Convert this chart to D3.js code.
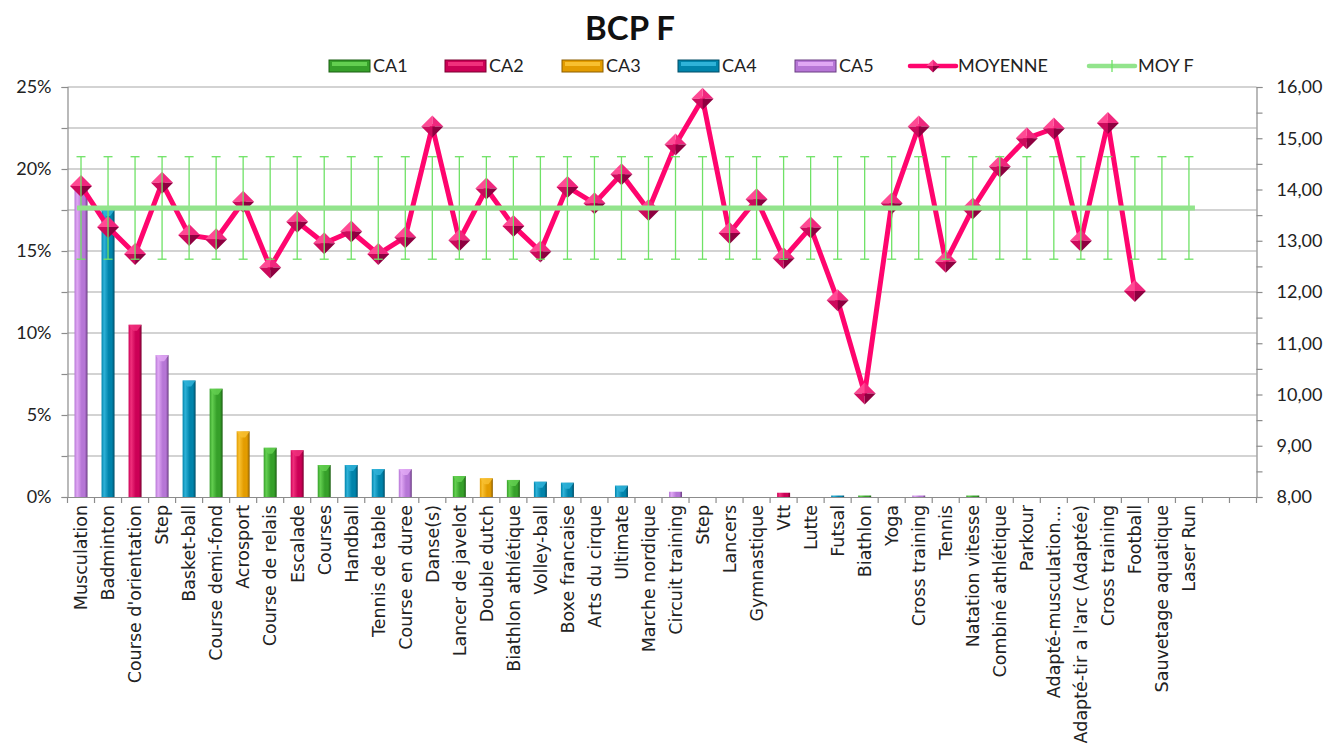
<!DOCTYPE html>
<html>
<head>
<meta charset="utf-8">
<script src="https://cdn.jsdelivr.net/npm/d3@7"></script>
<style>
  body { margin: 0; background: #fff; }
  svg { display: block; }
</style>
</head>
<body>
<svg id="chart" width="1327" height="747"></svg>
<script>
// Chart data
const categories = [
  'Musculation', 'Badminton', "Course d'orientation", 'Step', 'Basket-ball',
  'Course demi-fond', 'Acrosport', 'Course de relais', 'Escalade', 'Courses',
  'Handball', 'Tennis de table', 'Course en duree', 'Danse(s)', 'Lancer de javelot',
  'Double dutch', 'Biathlon athlétique', 'Volley-ball', 'Boxe francaise', 'Arts du cirque',
  'Ultimate', 'Marche nordique', 'Circuit training', 'Step', 'Lancers',
  'Gymnastique', 'Vtt', 'Lutte', 'Futsal', 'Biathlon',
  'Yoga', 'Cross training', 'Tennis', 'Natation vitesse', 'Combiné athlétique',
  'Parkour', 'Adapté-musculation…', "Adapté-tir a l'arc (Adaptée)", 'Cross training', 'Football',
  'Sauvetage aquatique', 'Laser Run', '', ''
];

// share of students per activity (%), and the CA group of each bar
const share = [
  18.9, 17.5, 10.5, 8.65, 7.1,
  6.6, 4.0, 3.0, 2.85, 1.95,
  1.95, 1.7, 1.7, 0, 1.28,
  1.14, 1.04, 0.93, 0.87, 0,
  0.69, 0, 0.32, 0, 0,
  0, 0.26, 0, 0.09, 0.09,
  0, 0.09, 0, 0.09, 0,
  0, 0, 0, 0, 0,
  0, 0
];
const caGroup = [
  'CA5', 'CA4', 'CA2', 'CA5', 'CA4',
  'CA1', 'CA3', 'CA1', 'CA2', 'CA1',
  'CA4', 'CA4', 'CA5', null, 'CA1',
  'CA3', 'CA1', 'CA4', 'CA4', null,
  'CA4', null, 'CA5', null, null,
  null, 'CA2', null, 'CA4', 'CA1',
  null, 'CA5', null, 'CA1', null,
  null, null, null, null, null,
  null, null
];

// average mark per activity (right axis)
const moyenne = [
  14.07, 13.27, 12.74, 14.13, 13.11,
  13.03, 13.76, 12.48, 13.37, 12.95,
  13.18, 12.74, 13.07, 15.23, 13.01,
  14.02, 13.29, 12.79, 14.05, 13.73,
  14.30, 13.60, 14.88, 15.77, 13.15,
  13.81, 12.66, 13.26, 11.84, 10.02,
  13.73, 15.23, 12.59, 13.63, 14.45,
  15.00, 15.19, 13.00, 15.30, 12.02
];

// overall girls' average and its error margin
const moyF = 13.64;
const moyFError = 1.0;
const moyFCount = 42;

const groups = ['CA1', 'CA2', 'CA3', 'CA4', 'CA5'];
const groupColors = {
  CA1: { base: '#36a02a', light: '#63cf50', dark: '#1b5e12' },
  CA2: { base: '#cc0056', light: '#f0307c', dark: '#7a0030' },
  CA3: { base: '#e39c00', light: '#f8c030', dark: '#8c5e00' },
  CA4: { base: '#0084ab', light: '#2fb2d8', dark: '#004c66' },
  CA5: { base: '#b676d6', light: '#e0a8f4', dark: '#6a3c82' }
};

const width = 1327, height = 747;
const plot = { left: 67.5, right: 1256.5, top: 87, bottom: 497 };

const svg = d3.select('#chart');
const defs = svg.append('defs');

groups.forEach(g => {
  const c = groupColors[g];
  const grad = defs.append('linearGradient').attr('id', 'grad-' + g)
    .attr('x1', '0%').attr('x2', '100%').attr('y1', '0%').attr('y2', '0%');
  grad.append('stop').attr('offset', '0%').attr('stop-color', c.base);
  grad.append('stop').attr('offset', '20%').attr('stop-color', c.light);
  grad.append('stop').attr('offset', '55%').attr('stop-color', c.base);
  grad.append('stop').attr('offset', '80%').attr('stop-color', c.base);
  grad.append('stop').attr('offset', '100%').attr('stop-color', c.dark);
});

// scales
const x = d3.scaleBand()
  .domain(d3.range(categories.length))
  .range([plot.left, plot.right])
  .paddingInner(0).paddingOuter(0);
const cx = i => x(i) + x.bandwidth() / 2;
const barWidth = 13;

const yLeft = d3.scaleLinear().domain([0, 25]).range([plot.bottom, plot.top]);
const yRight = d3.scaleLinear().domain([8, 16]).range([plot.bottom, plot.top]);

// gridlines
svg.append('g')
  .selectAll('line')
  .data(d3.range(2.5, 25.01, 2.5))
  .join('line')
  .attr('x1', plot.left).attr('x2', plot.right)
  .attr('y1', d => yLeft(d)).attr('y2', d => yLeft(d))
  .attr('stroke', '#c4c4c4').attr('stroke-width', 1.5);

// left axis
const leftAxis = svg.append('g')
  .attr('transform', `translate(${plot.left},0)`)
  .call(d3.axisLeft(yLeft)
    .tickValues(d3.range(0, 25.01, 2.5))
    .tickSize(6).tickPadding(10)
    .tickFormat(d => d % 5 === 0 ? d + '%' : ''));

// right axis
const rightAxis = svg.append('g')
  .attr('transform', `translate(${plot.right},0)`)
  .call(d3.axisRight(yRight)
    .tickValues(d3.range(8, 16.01, 0.5))
    .tickSize(6).tickPadding(14)
    .tickFormat(d => d % 1 === 0 ? d.toFixed(2).replace('.', ',') : ''));

[leftAxis, rightAxis].forEach(a => {
  a.select('.domain').attr('stroke', '#8c8c8c').attr('stroke-width', 1.2);
  a.selectAll('.tick line').attr('stroke', '#8c8c8c').attr('stroke-width', 1.2);
  a.selectAll('.tick text')
    .attr('font-family', 'Lato, "Open Sans", sans-serif')
    .attr('font-size', 18)
    .attr('fill', '#222');
});

// bottom axis with category labels
const bottomAxis = svg.append('g')
  .attr('transform', `translate(0,${plot.bottom})`)
  .call(d3.axisBottom(x).tickSize(0).tickFormat(i => categories[i]));
bottomAxis.select('.domain').attr('stroke', '#8c8c8c').attr('stroke-width', 1.2);
bottomAxis.selectAll('.tick text')
  .attr('font-family', '"DejaVu Sans", Verdana, sans-serif')
  .attr('font-size', 17.5)
  .attr('fill', '#222')
  .attr('text-anchor', 'end')
  .attr('transform', 'rotate(-90)')
  .attr('x', -8)
  .attr('y', 0)
  .attr('dy', '0.36em');

// boundary ticks between categories
svg.append('g')
  .selectAll('line')
  .data(d3.range(categories.length + 1))
  .join('line')
  .attr('x1', i => plot.left + i * x.step())
  .attr('x2', i => plot.left + i * x.step())
  .attr('y1', plot.bottom).attr('y2', plot.bottom + 6)
  .attr('stroke', '#8c8c8c').attr('stroke-width', 1.2);

// bars
const barData = share.map((v, i) => ({ i, v, g: caGroup[i] })).filter(d => d.g && d.v > 0);
const bars = svg.append('g').selectAll('g').data(barData).join('g');
bars.append('rect')
  .attr('x', d => cx(d.i) - barWidth / 2)
  .attr('width', barWidth)
  .attr('y', d => yLeft(d.v))
  .attr('height', d => yLeft(0) - yLeft(d.v))
  .attr('fill', d => `url(#grad-${d.g})`);
bars.filter(d => yLeft(0) - yLeft(d.v) > 8)
  .append('path')
  .attr('d', d => {
    const x0 = cx(d.i) - barWidth / 2, x1 = cx(d.i) + barWidth / 2, y0 = yLeft(d.v);
    return `M${x0},${y0}L${x1},${y0}L${cx(d.i) + 2},${y0 + 6}L${cx(d.i) - 2},${y0 + 6}Z`;
  })
  .attr('fill', d => groupColors[d.g].light)
  .attr('opacity', 0.85);

// MOYENNE line and diamonds
const lineGen = d3.line()
  .x((d, i) => cx(i))
  .y(d => yRight(d));
svg.append('path')
  .datum(moyenne)
  .attr('d', lineGen)
  .attr('fill', 'none')
  .attr('stroke', '#ff056e')
  .attr('stroke-width', 5)
  .attr('stroke-linejoin', 'round');

const r = 11;
const facets = [
  { d: `M0,${-r}L${r},0L0,0Z`, fill: '#f0287e' },
  { d: `M0,${-r}L${-r},0L0,0Z`, fill: '#ff4a94' },
  { d: `M${-r},0L0,${r}L0,0Z`, fill: '#cc0a5c' },
  { d: `M${r},0L0,${r}L0,0Z`, fill: '#8e0040' }
];
const markers = svg.append('g').selectAll('g')
  .data(moyenne)
  .join('g')
  .attr('transform', (d, i) => `translate(${cx(i)},${yRight(d)})`);
facets.forEach(f => markers.append('path').attr('d', f.d).attr('fill', f.fill));

// MOY F line with error bars
const moyFIdx = d3.range(moyFCount);
const errG = svg.append('g').attr('stroke', '#6fe266').attr('stroke-width', 1.3);
errG.selectAll('line.v').data(moyFIdx).join('line').attr('class', 'v')
  .attr('x1', i => cx(i)).attr('x2', i => cx(i))
  .attr('y1', yRight(moyF + moyFError)).attr('y2', yRight(moyF - moyFError));
[moyF + moyFError, moyF - moyFError].forEach((v, k) => {
  errG.selectAll('line.c' + k).data(moyFIdx).join('line').attr('class', 'c' + k)
    .attr('x1', i => cx(i) - 4.5).attr('x2', i => cx(i) + 4.5)
    .attr('y1', yRight(v)).attr('y2', yRight(v));
});
svg.append('line')
  .attr('x1', cx(0) - 4).attr('x2', cx(moyFCount - 1) + 6)
  .attr('y1', yRight(moyF)).attr('y2', yRight(moyF))
  .attr('stroke', '#92e48c').attr('stroke-width', 5);

// title
svg.append('text')
  .attr('x', 630).attr('y', 40)
  .attr('text-anchor', 'middle')
  .attr('font-family', 'Lato, "Open Sans", sans-serif')
  .attr('font-weight', 'bold')
  .attr('font-size', 33)
  .attr('fill', '#111')
  .text('BCP F');

// legend
const legendY = 66;
const legendFont = 'Lato, "Open Sans", sans-serif';
const barLegendX = [329, 445, 562, 678, 795];
groups.forEach((g, k) => {
  const lx = barLegendX[k];
  svg.append('rect')
    .attr('x', lx).attr('y', legendY - 6).attr('width', 41).attr('height', 12)
    .attr('fill', groupColors[g].base)
    .attr('stroke', groupColors[g].dark).attr('stroke-width', 1);
  svg.append('rect')
    .attr('x', lx + 3).attr('y', legendY - 4).attr('width', 35).attr('height', 4)
    .attr('fill', groupColors[g].light);
  svg.append('text')
    .attr('x', lx + 44).attr('y', legendY + 6)
    .attr('font-family', legendFont).attr('font-size', 18).attr('fill', '#222')
    .text(g);
});

// MOYENNE legend
svg.append('line')
  .attr('x1', 910).attr('x2', 956).attr('y1', legendY).attr('y2', legendY)
  .attr('stroke', '#ff056e').attr('stroke-width', 4.5).attr('stroke-linecap', 'round');
const legMarker = svg.append('g').attr('transform', `translate(933,${legendY})`);
facets.forEach(f => legMarker.append('path').attr('d', f.d).attr('fill', f.fill)
  .attr('transform', 'scale(0.6)'));
svg.append('text')
  .attr('x', 958).attr('y', legendY + 6)
  .attr('font-family', legendFont).attr('font-size', 18).attr('fill', '#222')
  .text('MOYENNE');

// MOY F legend
svg.append('line')
  .attr('x1', 1089).attr('x2', 1135).attr('y1', legendY).attr('y2', legendY)
  .attr('stroke', '#92e48c').attr('stroke-width', 4.5).attr('stroke-linecap', 'round');
svg.append('line')
  .attr('x1', 1112).attr('x2', 1112).attr('y1', legendY - 6).attr('y2', legendY + 6)
  .attr('stroke', '#6fe266').attr('stroke-width', 1.3);
svg.append('text')
  .attr('x', 1138).attr('y', legendY + 6)
  .attr('font-family', legendFont).attr('font-size', 18).attr('fill', '#222')
  .text('MOY F');
</script>
</body>
</html>
